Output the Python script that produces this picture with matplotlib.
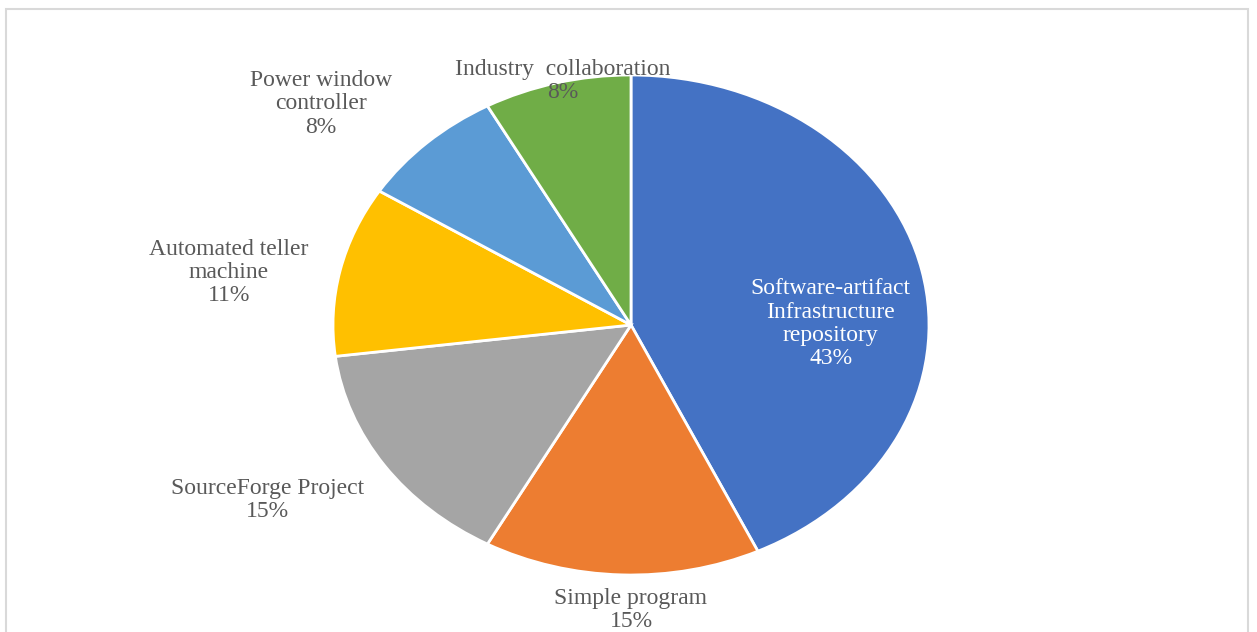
import matplotlib
matplotlib.use("Agg")
import matplotlib.pyplot as plt
from matplotlib.patches import Rectangle

# share of studies per case-study type
categories = ["Software-artifact\nInfrastructure\nrepository", "Simple program",
              "SourceForge Project", "Automated teller\nmachine",
              "Power window\ncontroller", "Industry  collaboration"]
shares = [43, 15, 15, 11, 8, 8]
colors = ["#4472C4", "#ED7D31", "#A5A5A5", "#FFC000", "#5B9BD5", "#70AD47"]

# label centres in pie units (x radius = y radius = 1)
label_pos = [(0.67, 0.005), (0.0, -1.14), (-1.22, -0.70),
             (-1.35, 0.21), (-1.04, 0.885), (-0.23, 0.975)]
label_color = ["white", "#595959", "#595959", "#595959", "#595959", "#595959"]

W, H = 1257, 632
fig = plt.figure(figsize=(W / 100, H / 100), dpi=100)
fig.patch.set_facecolor("white")

# chart frame
fig.add_artist(Rectangle((6 / W, -0.05), 1242 / W, 1.05 - 9 / H, transform=fig.transFigure,
                         fill=False, edgecolor="#D9D9D9", linewidth=1.5))

# pie is stretched into an ellipse: 597 px wide, 500 px tall
cx, cy, rx, ry = 631, 325, 298, 250
ax = fig.add_axes([(cx - rx) / W, (H - cy - ry) / H, 2 * rx / W, 2 * ry / H])
wedges, _ = ax.pie(shares, colors=colors, startangle=90, counterclock=False,
                   wedgeprops=dict(edgecolor="white", linewidth=2))
ax.set_aspect("auto")
ax.set_xlim(-1, 1)
ax.set_ylim(-1, 1)
ax.axis("off")

for name, val, (x, y), c in zip(categories, shares, label_pos, label_color):
    ax.text(x, y, f"{name}\n{val}%", ha="center", va="center", color=c,
            fontsize=17, family="Liberation Serif", linespacing=1.15, clip_on=False)

fig.savefig("out.png", dpi=100)
